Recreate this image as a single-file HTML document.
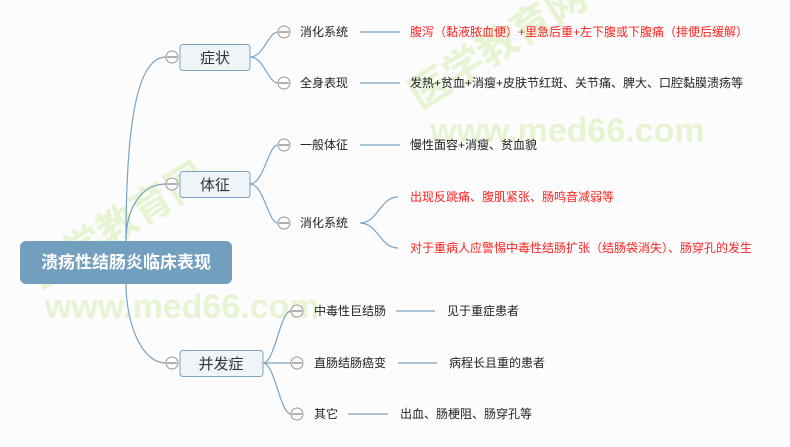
<!DOCTYPE html>
<html><head><meta charset="utf-8"><style>
html,body{margin:0;padding:0;background:#fcfcfc;}
svg{display:block;font-family:"Liberation Sans","Noto Sans CJK SC",sans-serif;}
</style></head><body>
<svg width="790" height="447" viewBox="0 0 790 447" xmlns="http://www.w3.org/2000/svg">
<rect width="790" height="447" fill="#fcfcfc"/>
<!-- watermarks -->
<g fill="#d8efb8" opacity="0.6" font-weight="bold">
<text x="45" y="318" font-size="34" font-family="Liberation Sans,sans-serif">www.med66.com</text>
<text x="430" y="142" font-size="34" font-family="Liberation Sans,sans-serif">www.med66.com</text>
<text x="40" y="290" font-size="40" transform="rotate(-32 40 290)">医学教育网</text>
<text x="420" y="110" font-size="40" transform="rotate(-32 420 110)">医学教育网</text>
</g>
<g fill="none" stroke="#7aa3c2" stroke-width="1.2">
<path d="M126,241 C126,110 140,57 166,57"/>
<path d="M126,241 C126,210 140,184 166,184"/>
<path d="M126,284 C126,320 140,363 166,363"/>
<path d="M250,57 C264,57 268,32 278,32"/>
<path d="M250,57 C264,57 268,83 278,83"/>
<path d="M250,184 C264,184 268,145 278,145"/>
<path d="M250,184 C264,184 268,223 278,223"/>
<path d="M263,363 C275,363 280,311 291,311"/>
<path d="M263,363 L291,363"/>
<path d="M263,363 C275,363 280,414 291,414"/>
<path d="M360,32 H400 M360,83 H400 M360,145 H400"/>
<path d="M360,223 C378,223 380,197 398,197"/>
<path d="M360,223 C378,223 380,248 398,248"/>
<path d="M396,311 H435 M398,363 H437 M348,414 H388"/>
</g>
<rect x="20" y="241" width="212" height="43" rx="6" fill="#739fbf"/>
<text x="126" y="268" text-anchor="middle" fill="#fff" font-size="17" font-weight="bold">溃疡性结肠炎临床表现</text>
<g fill="#eff4f8" stroke="#7aa3c2" stroke-width="1">
<rect x="180" y="44.5" width="70" height="26" rx="3"/>
<rect x="180" y="171.5" width="70" height="26" rx="3"/>
<rect x="180" y="350.5" width="83" height="26" rx="3"/>
</g>
<g font-size="15" fill="#333" text-anchor="middle">
<text x="215" y="63">症状</text>
<text x="215" y="190">体征</text>
<text x="221" y="369">并发症</text>
</g>
<g fill="#fcfcfc" stroke="#999" stroke-width="1">
<circle cx="172" cy="57" r="6"/><circle cx="172" cy="184" r="6"/><circle cx="172" cy="363" r="6"/>
<circle cx="284" cy="32" r="6"/><circle cx="284" cy="83" r="6"/><circle cx="284" cy="145" r="6"/><circle cx="284" cy="223" r="6"/>
<circle cx="297" cy="311" r="6"/><circle cx="297" cy="363" r="6"/><circle cx="297" cy="414" r="6"/>
</g>
<g stroke="#666" stroke-width="1">
<path d="M167,57h10M167,184h10M167,363h10M279,32h10M279,83h10M279,145h10M279,223h10M292,311h10M292,363h10M292,414h10"/>
</g>
<g font-size="12" fill="#222">
<text x="300" y="36">消化系统</text>
<text x="300" y="87">全身表现</text>
<text x="300" y="149">一般体征</text>
<text x="300" y="227">消化系统</text>
<text x="314" y="315">中毒性巨结肠</text>
<text x="314" y="367">直肠结肠癌变</text>
<text x="314" y="418">其它</text>
<text x="410" y="87">发热+贫血+消瘦+皮肤节红斑、关节痛、脾大、口腔黏膜溃疡等</text>
<text x="410" y="149">慢性面容+消瘦、贫血貌</text>
<text x="447" y="315">见于重症患者</text>
<text x="449" y="367">病程长且重的患者</text>
<text x="400" y="418">出血、肠梗阻、肠穿孔等</text>
</g>
<g font-size="12" fill="#ff2222">
<text x="410" y="36">腹泻（黏液脓血便）+里急后重+左下腹或下腹痛（排便后缓解）</text>
<text x="410" y="201">出现反跳痛、腹肌紧张、肠鸣音减弱等</text>
<text x="410" y="252">对于重病人应警惕中毒性结肠扩张（结肠袋消失）、肠穿孔的发生</text>
</g>
</svg>
</body></html>
